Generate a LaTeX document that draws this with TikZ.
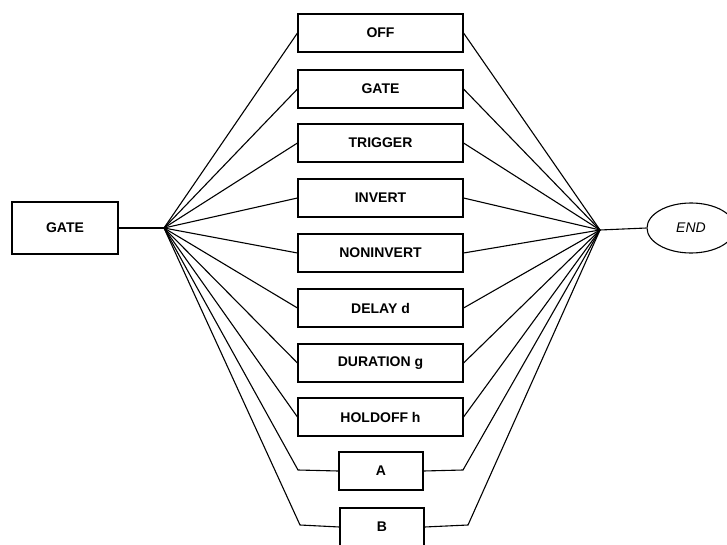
\documentclass[tikz,border=0pt]{standalone}
\usepackage{fontspec}
\setmainfont{Liberation Sans}
\usetikzlibrary{shapes.geometric}
\tikzset{
  bigbox/.style={draw, line width=1.1pt, minimum width=165pt, minimum height=38pt, inner sep=0pt, font=\fontsize{14}{16}\selectfont\bfseries},
  smallbox/.style={bigbox, minimum width=84pt},
  link/.style={line width=1.1pt},
}
\begin{document}
\begin{tikzpicture}[x=1pt,y=-1pt]
\useasboundingbox (0,0) rectangle (727,545);
\node[bigbox, minimum width=106pt, minimum height=52pt] (gate) at (65,228) {GATE};
\coordinate (jl) at (164,228);
\coordinate (jr) at (600,230);
\node[draw, ellipse, line width=1.1pt, minimum width=88pt, minimum height=50pt, inner sep=0pt, font=\fontsize{14}{16}\selectfont\itshape] (end) at (691,228) {END};
\node[bigbox] (b1) at (380.5,33) {OFF};
\node[bigbox] (b2) at (380.5,89) {GATE};
\node[bigbox] (b3) at (380.5,143) {TRIGGER};
\node[bigbox] (b4) at (380.5,198) {INVERT};
\node[bigbox] (b5) at (380.5,253) {NONINVERT};
\node[bigbox] (b6) at (380.5,308) {DELAY d};
\node[bigbox] (b7) at (380.5,363) {DURATION g};
\node[bigbox] (b8) at (380.5,417) {HOLDOFF h};
\node[smallbox] (ba) at (381,471) {A};
\node[smallbox] (bb) at (382,527) {B};
\coordinate (al) at (298,470);
\coordinate (ar) at (463,470);
\coordinate (bl) at (300,525);
\coordinate (br) at (468,525);
\draw[link] (gate.east) -- (jl);
\draw[link] (jr) -- (end.west);
\foreach \n in {b1,b2,b3,b4,b5,b6,b7,b8}{
  \draw[link] (jl) -- (\n.west);
  \draw[link] (\n.east) -- (jr);
}
\draw[link] (jl) -- (al) -- (ba.west);
\draw[link] (ba.east) -- (ar) -- (jr);
\draw[link] (jl) -- (bl) -- (bb.west);
\draw[link] (bb.east) -- (br) -- (jr);
\end{tikzpicture}
\end{document}
